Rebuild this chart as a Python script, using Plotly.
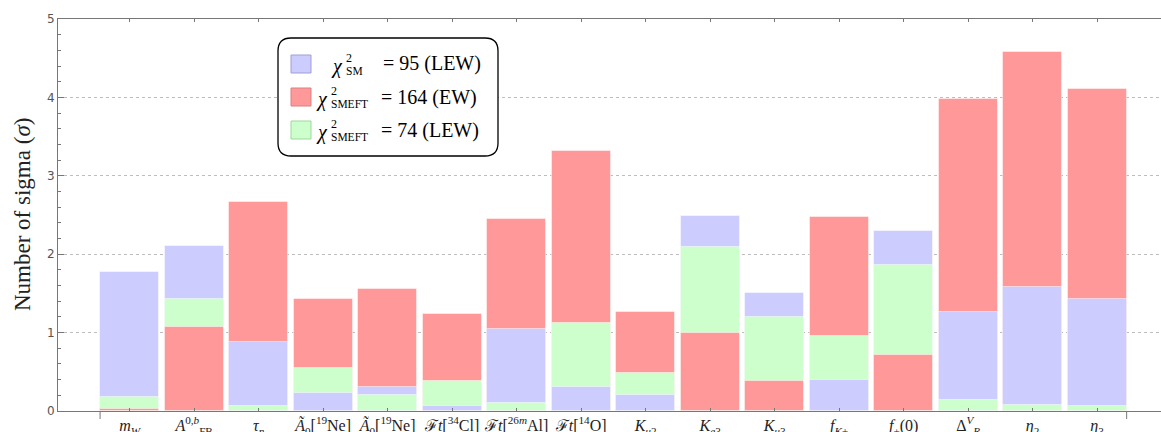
import plotly.graph_objects as go

# Observables on the horizontal axis
labels = [
    "<i>m</i><sub><i>W</i></sub>",
    "<i>A</i><sup>0,<i>b</i></sup><sub>FB</sub>",
    "<i>τ</i><sub><i>n</i></sub>",
    "<i>Ã</i><sub>0</sub>[<sup>19</sup>Ne]",
    "<i>Ã</i><sub>0</sub>[<sup>19</sup>Ne]",
    "ℱ<i>t</i>[<sup>34</sup>Cl]",
    "ℱ<i>t</i>[<sup>26<i>m</i></sup>Al]",
    "ℱ<i>t</i>[<sup>14</sup>O]",
    "<i>K</i><sub><i>μ</i>2</sub>",
    "<i>K</i><sub><i>e</i>3</sub>",
    "<i>K</i><sub><i>μ</i>3</sub>",
    "<i>f</i><sub><i>K</i>±</sub>",
    "<i>f</i><sub>+</sub>(0)",
    "Δ<sup><i>V</i></sup><sub><i>R</i></sub>",
    "<i>η</i><sub>2</sub>",
    "<i>η</i><sub>3</sub>",
]

# Pull (number of sigma) for each observable in the three fits
sm_lew = [1.77, 2.11, 0.88, 0.23, 0.31, 0.06, 1.04, 0.31, 0.20, 2.49, 1.50, 0.40, 2.29, 1.26, 1.58, 1.43]
smeft_ew = [0.02, 1.07, 2.66, 1.43, 1.55, 1.24, 2.45, 3.32, 1.26, 0.99, 0.38, 2.48, 0.72, 3.98, 4.58, 4.11]
smeft_lew = [0.18, 1.43, 0.07, 0.55, 0.20, 0.38, 0.10, 1.12, 0.48, 2.09, 1.20, 0.96, 1.86, 0.14, 0.08, 0.07]

BLUE, RED, GREEN = "#ccccff", "#ff9999", "#ccffcc"
series = [(sm_lew, BLUE), (smeft_ew, RED), (smeft_lew, GREEN)]

W, H = 1161, 432
L, R, T, B = 58, 0, 19, 21
PW, PH = W - L - R, H - T - B


def px(x):
    return (x - L) / PW


def py(y):
    return (H - B - y) / PH


xs = list(range(len(labels)))

# Overlaid bars: tallest at the back, shortest in front
layers = [[], [], []]
for i in xs:
    ranked = sorted(((vals[i], col) for vals, col in series), key=lambda t: -t[0])
    for k, item in enumerate(ranked):
        layers[k].append(item)

fig = go.Figure()
for layer in layers:
    fig.add_trace(go.Bar(
        x=xs,
        y=[v for v, _ in layer],
        width=0.915,
        marker=dict(color=[c for _, c in layer], opacity=1,
                    line=dict(color="rgba(255,255,255,0.45)", width=1)),
        showlegend=False,
        hoverinfo="skip",
    ))

shapes = []
# frame ticks at the outer edges of the bar group
for xe in (-0.4575, len(labels) - 1 + 0.4575):
    shapes.append(dict(type="line", xref="x", yref="paper", x0=xe, x1=xe,
                       y0=0, y1=-8 / PH, line=dict(color="#777", width=1)))

# rounded legend frame
x0, x1, y0, y1, r = 278, 498, 38, 156, 13
def pt(x, y):
    return f"{px(x):.5f},{py(y):.5f}"
path = (f"M {pt(x0 + r, y0)} L {pt(x1 - r, y0)} Q {pt(x1, y0)} {pt(x1, y0 + r)} "
        f"L {pt(x1, y1 - r)} Q {pt(x1, y1)} {pt(x1 - r, y1)} "
        f"L {pt(x0 + r, y1)} Q {pt(x0, y1)} {pt(x0, y1 - r)} "
        f"L {pt(x0, y0 + r)} Q {pt(x0, y0)} {pt(x0 + r, y0)} Z")
shapes.append(dict(type="path", xref="paper", yref="paper", path=path,
                   fillcolor="white", line=dict(color="black", width=1.3), layer="above"))

legend_rows = [
    (BLUE, "#9f9fd9", "SM", "= 95 (LEW)", 64, 344, 381),
    (RED, "#d98080", "SMEFT", "= 164 (EW)", 97, 329, 379),
    (GREEN, "#9fd69f", "SMEFT", "= 74 (LEW)", 130, 329, 379),
]
annotations = []
SERIF = "Liberation Serif, Times New Roman, serif"
for fill, edge, sub, rhs, yc, xc, xe in legend_rows:
    shapes.append(dict(type="rect", xref="paper", yref="paper",
                       x0=px(291), x1=px(311), y0=py(yc + 9), y1=py(yc - 9),
                       fillcolor=fill, line=dict(color=edge, width=1), layer="above"))
    annotations += [
        dict(x=px(xc + 1), y=py(yc + 2), text="<i>χ</i>", xanchor="right", yanchor="middle",
             font=dict(family=SERIF, size=20, color="black")),
        dict(x=px(xc), y=py(yc - 6), text="2", xanchor="left", yanchor="middle",
             font=dict(family=SERIF, size=12, color="black")),
        dict(x=px(xc), y=py(yc + 7), text=sub, xanchor="left", yanchor="middle",
             font=dict(family=SERIF, size=11.5, color="black")),
        dict(x=px(xe), y=py(yc), text=rhs, xanchor="left", yanchor="middle",
             font=dict(family=SERIF, size=20, color="black")),
    ]

annotations.append(dict(x=px(22), y=0.5, text="Number of sigma (<i>σ</i>)", textangle=-90,
                        xanchor="center", yanchor="middle",
                        font=dict(family=SERIF, size=23, color="#222")))
for a in annotations:
    a.setdefault("xref", "paper")
    a.setdefault("yref", "paper")
    a.setdefault("showarrow", False)

fig.update_layout(
    width=W, height=H,
    margin=dict(l=L, r=R, t=T, b=B, pad=0, autoexpand=False),
    paper_bgcolor="white", plot_bgcolor="white",
    barmode="overlay", bargap=0,
    shapes=shapes, annotations=annotations,
    xaxis=dict(
        range=[-1.11, 15.99], tickvals=xs, ticktext=labels,
        ticks="inside", ticklen=3, tickcolor="#777",
        showline=True, linecolor="#777", linewidth=1, mirror="ticks",
        showgrid=False, zeroline=False, automargin=False,
        tickfont=dict(family=SERIF, size=16, color="#222"),
    ),
    yaxis=dict(
        range=[0, 5], dtick=1, tick0=0,
        ticks="inside", ticklen=6, tickcolor="#777",
        minor=dict(dtick=0.2, ticks="inside", ticklen=3, tickcolor="#777", showgrid=False),
        showline=True, linecolor="#777", linewidth=1,
        showgrid=True, gridcolor="#bdbdbd", griddash="dot", gridwidth=1,
        zeroline=False, automargin=False,
        tickfont=dict(family="DejaVu Sans", size=12, color="#555"),
    ),
)

fig.write_html("out.html")
